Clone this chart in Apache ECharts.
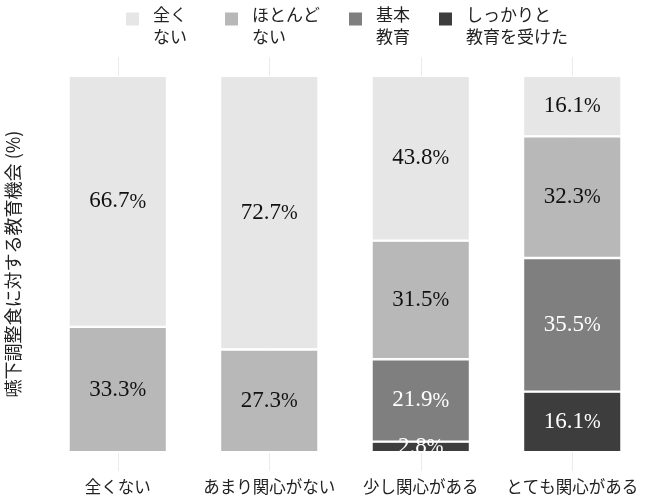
<!DOCTYPE html>
<html>
<head>
<meta charset="utf-8">
<script src="https://cdn.jsdelivr.net/npm/echarts@6/dist/echarts.min.js"></script>
<style>
  html, body { margin: 0; padding: 0; background: #fff; }
  #chart { width: 649px; height: 502px; }
</style>
</head>
<body>
<div id="chart"></div>
<script>
var categories = ['全くない', 'あまり関心がない', '少し関心がある', 'とても関心がある'];
var seriesNames = ['しっかりと\n教育を受けた', '基本\n教育', 'ほとんど\nない', '全く\nない'];
var legendOrder = ['全く\nない', 'ほとんど\nない', '基本\n教育', 'しっかりと\n教育を受けた'];
var wellTrained = [0, 0, 2.8, 16.1];
var basic = [0, 0, 21.9, 35.5];
var barely = [33.3, 27.3, 31.5, 32.3];
var none = [66.7, 72.7, 43.8, 16.1];
var colors = ['#3d3d3d', '#7f7f7f', '#b8b8b8', '#e6e6e6'];
var labelColors = ['#fff', '#fff', '#111', '#111'];

var makeChart = function(element)
{
    var myChart = echarts.init(element, null, { renderer: 'canvas' });

    var values = [wellTrained, basic, barely, none];
    var series = values.map(function(arr, i) {
        return {
            name: seriesNames[i],
            type: 'bar',
            stack: 'total',
            barWidth: '65%',
            data: arr,
            itemStyle: { color: colors[i], borderColor: '#fff', borderWidth: 1.2 },
            label: {
                show: true,
                position: 'inside',
                formatter: function(p) {
                    return p.value > 0 ? '{n|' + p.value.toFixed(1) + '}{p|%}' : '';
                },
                rich: {
                    n: { fontFamily: 'Liberation Serif', fontSize: 23, color: labelColors[i] },
                    p: { fontFamily: 'Liberation Serif', fontSize: 20, color: labelColors[i], padding: [2, 0, 0, 0] }
                }
            }
        };
    });

    // the first key sits a bit apart from the others, so two legend blocks
    var makeLegend = function(names, left) {
        return {
            data: names,
            top: -10,
            left: left,
            padding: 0,
            icon: 'rect',
            itemWidth: 15,
            itemHeight: 15,
            itemGap: 27,
            // a thin empty line on top pushes the text below the key square
            formatter: function(name) {
                return '{s| }\n{t|' + name.split('\n').join('}\n{t|') + '}';
            },
            textStyle: {
                fontFamily: 'Noto Sans CJK JP',
                fontSize: 17,
                color: '#222',
                padding: [0, 0, 0, 8],
                rich: {
                    s: { fontSize: 2, lineHeight: 14, height: 14 },
                    t: { fontFamily: 'Noto Sans CJK JP', fontSize: 17, lineHeight: 22, color: '#222' }
                }
            }
        };
    };

    var option = {
        animation: false,
        legend: [
            makeLegend(legendOrder.slice(0, 1), 124),
            makeLegend(legendOrder.slice(1), 223)
        ],
        grid: { left: 42, right: 1, top: 57, bottom: 31, outerBoundsMode: 'none' },
        xAxis: {
            type: 'category',
            data: categories,
            axisLine: { show: false },
            axisTick: { show: false },
            splitLine: { show: true, interval: 0, alignWithLabel: true, lineStyle: { color: '#ebebeb', width: 1 } },
            axisLabel: {
                interval: 0,
                fontFamily: 'Noto Sans CJK JP',
                fontSize: 16.5,
                color: '#222',
                margin: 7
            }
        },
        yAxis: {
            type: 'value',
            min: -5,
            max: 105,
            name: '嚥下調整食に対する教育機会 (%)',
            nameLocation: 'middle',
            nameRotate: 90,
            nameGap: 20,
            nameTextStyle: { fontFamily: 'Noto Sans CJK JP', fontSize: 18, color: '#222' },
            axisLine: { show: false },
            axisTick: { show: false },
            axisLabel: { show: false },
            splitLine: { show: false }
        },
        series: series
    };

    myChart.setOption(option);
    window.addEventListener('resize', myChart.resize);
};

makeChart(document.getElementById('chart'));
</script>
</body>
</html>
